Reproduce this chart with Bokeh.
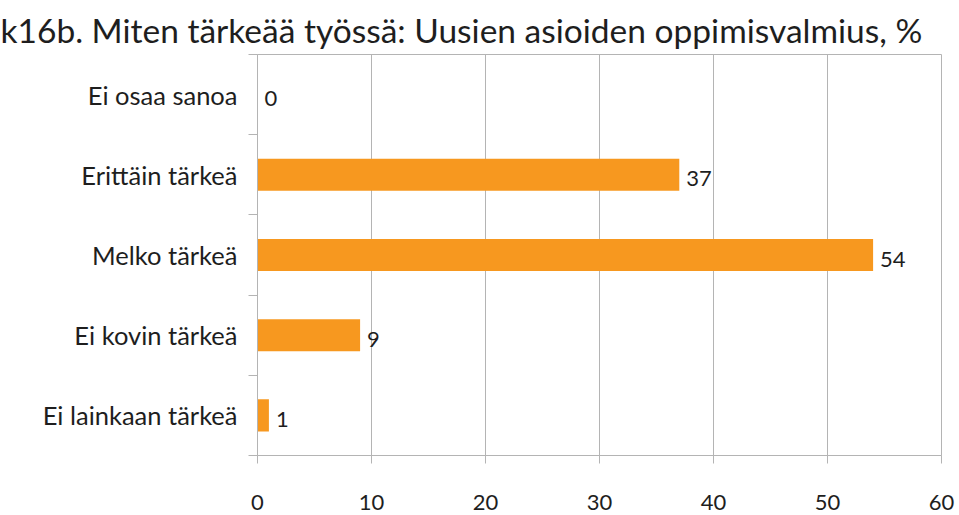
from bokeh.plotting import figure
from bokeh.models import FixedTicker, ColumnDataSource, Range1d
from bokeh.core.properties import value
from bokeh.embed import file_html
from bokeh.resources import INLINE

title_text = "k16b. Miten tärkeää työssä: Uusien asioiden oppimisvalmius, %"
categories = ["Ei osaa sanoa", "Erittäin tärkeä", "Melko tärkeä", "Ei kovin tärkeä", "Ei lainkaan tärkeä"]
values = [0, 37, 54, 9, 1]
x_ticks = [0, 10, 20, 30, 40, 50, 60]

FONT = "Lato"
GRID = "#b4b4b4"
TEXT = "#1e1e1e"
BAR = "#F7981F"

n = len(categories)
# top category first -> highest y position
ypos = [n - 1 - i + 0.5 for i in range(n)]
src = ColumnDataSource(dict(y=ypos, v=values, lab=[str(v) for v in values], cat=categories))

p = figure(width=959, height=515, output_backend="svg", toolbar_location=None,
           x_range=Range1d(0, 60), y_range=Range1d(0, n),
           min_border_left=257, min_border_right=18, min_border_top=54, min_border_bottom=60)

p.title.text = title_text
p.title.align = "left"
p.title.offset = -257
p.title.text_font = FONT
p.title.text_font_size = "33.5px"
p.title.text_font_style = "normal"
p.title.text_color = TEXT
p.title.standoff = 10

p.hbar(y="y", right="v", left=0, height=0.4, source=src, color=BAR, line_color=None)
p.text(x="v", y="y", text="lab", source=src, x_offset=7, y_offset=4,
       text_baseline="middle", text_align="left", text_font=value(FONT),
       text_font_size="22px", text_color=TEXT)

# x axis
p.xaxis.ticker = FixedTicker(ticks=x_ticks)
p.xaxis.axis_line_color = GRID
p.xaxis.major_tick_line_color = GRID
p.xaxis.major_tick_out = 8
p.xaxis.major_tick_in = 0
p.xaxis.minor_tick_line_color = None
p.xaxis.major_label_standoff = 31
p.xaxis.major_label_text_font = FONT
p.xaxis.major_label_text_font_size = "22px"
p.xaxis.major_label_text_color = TEXT

# y axis: labels at centres, ticks at boundaries
p.yaxis.ticker = FixedTicker(ticks=ypos, minor_ticks=list(range(n + 1)))
p.yaxis.major_label_overrides = {y: c for y, c in zip(ypos, categories)}
p.yaxis.axis_line_color = GRID
p.yaxis.major_tick_line_color = None
p.yaxis.minor_tick_line_color = GRID
p.yaxis.minor_tick_out = 9
p.yaxis.minor_tick_in = 0
p.yaxis.major_label_standoff = 11
p.yaxis.major_label_text_font = FONT
p.yaxis.major_label_text_font_size = "25.5px"
p.yaxis.major_label_text_color = TEXT

p.xgrid.grid_line_color = GRID
p.ygrid.grid_line_color = None
p.outline_line_color = GRID
p.background_fill_color = "white"
p.border_fill_color = "white"

open("out.html", "w").write(file_html(p, INLINE))
